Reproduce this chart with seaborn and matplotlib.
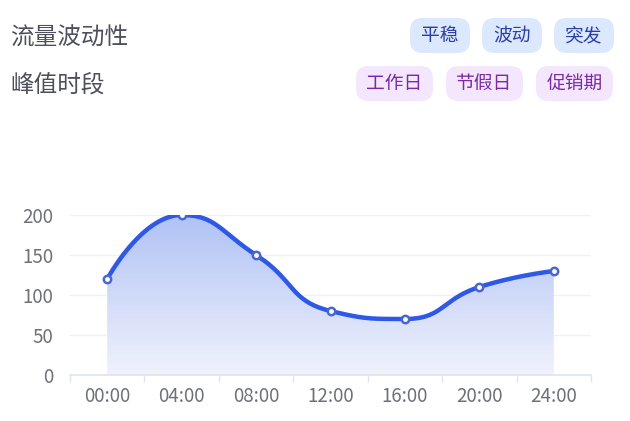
import numpy as np
import pandas as pd
import matplotlib
matplotlib.use("Agg")
import matplotlib.pyplot as plt
import seaborn as sns
from matplotlib.patches import FancyBboxPatch, Polygon

# chart data
hours = ["00:00", "04:00", "08:00", "12:00", "16:00", "20:00", "24:00"]
traffic = [120, 200, 150, 80, 70, 110, 130]
y_ticks = [0, 50, 100, 150, 200]

# header rows
row_titles = ["流量波动性", "峰值时段"]
volatility_tags = ["平稳", "波动", "突发"]
peak_tags = ["工作日", "节假日", "促销期"]

sns.set_theme(style="white")
plt.rcParams['font.family'] = ['Noto Sans CJK SC', 'DejaVu Sans']

W, H = 630, 421
fig = plt.figure(figsize=(W / 100, H / 100), dpi=100)

# axes placed in pixel units
ax_l, ax_r, ax_b, ax_t = 70, 591, 375, 215
ax = fig.add_axes([ax_l / W, 1 - ax_b / H, (ax_r - ax_l) / W, (ax_b - ax_t) / H])

n = len(hours)
xs = np.arange(n)
df = pd.DataFrame({"hour": hours, "x": xs, "traffic": traffic})

# smooth curve, echarts style: bezier control points clamped to neighbour boxes
sx = (ax_r - ax_l) / n
sy = (ax_b - ax_t) / 200.0
P = np.column_stack([xs * sx, np.array(traffic, float) * sy])
smooth = 0.5


def clamp(v, a, b):
    return np.minimum(np.maximum(v, np.minimum(a, b)), np.maximum(a, b))


segments = []
cp0 = P[0].copy()
for i in range(1, n):
    cur = P[i]
    prev = P[i - 1]
    if i == n - 1:
        cp1 = cur.copy()
        nxt_cp = cur.copy()
    else:
        nxt = P[i + 1]
        v = nxt - prev
        len_prev = np.linalg.norm(cur - prev)
        len_next = np.linalg.norm(nxt - cur)
        ratio = len_next / (len_next + len_prev)
        nxt_cp = cur + v * smooth * ratio
        nxt_cp = clamp(nxt_cp, nxt, cur)
        v = nxt_cp - cur
        cp1 = cur - v * len_prev / len_next
        cp1 = clamp(cp1, prev, cur)
        v = cur - cp1
        nxt_cp = cur + v * len_next / len_prev
    segments.append((prev, cp0, cp1, cur))
    cp0 = nxt_cp

t = np.linspace(0, 1, 40)[:, None]
curve = []
for k, (p0, p1, p2, p3) in enumerate(segments):
    seg = (1 - t) ** 3 * p0 + 3 * (1 - t) ** 2 * t * p1 + 3 * (1 - t) * t ** 2 * p2 + t ** 3 * p3
    curve.append(seg if k == 0 else seg[1:])
curve = np.vstack(curve)
cx = curve[:, 0] / sx
cy = curve[:, 1] / sy

ax.set_xlim(-0.5, n - 0.5)
ax.set_ylim(0, 200)

# gradient area
poly = np.vstack([[cx[0], 0], np.column_stack([cx, cy]), [cx[-1], 0]])
patch = Polygon(poly, closed=True, facecolor="none", edgecolor="none")
ax.add_patch(patch)
top_c = np.array([0.69, 0.76, 0.96])
bot_c = np.array([0.94, 0.95, 0.99])
g = np.linspace(0, 1, 256)[:, None]
grad = (bot_c[None, :] * (1 - g) + top_c[None, :] * g)[:, None, :]
im = ax.imshow(grad, extent=[-0.5, n - 0.5, 0, cy.max()], origin="lower",
               aspect="auto", zorder=1)
im.set_clip_path(patch)

curve_df = pd.DataFrame({"x": cx, "y": cy})
sns.lineplot(data=curve_df, x="x", y="y", ax=ax, color="#2e58e6", linewidth=3.2,
             sort=False, zorder=3, solid_capstyle="round")
sns.scatterplot(data=df, x="x", y="traffic", ax=ax, s=28, color="white",
                edgecolor="#4a66cf", linewidth=1.8, zorder=4)

ax.set_xlim(-0.5, n - 0.5)
ax.set_ylim(0, 200)
ax.set_xlabel("")
ax.set_ylabel("")
ax.set_xticks(xs)
ax.set_xticklabels(hours)
ax.set_xticks(np.arange(n + 1) - 0.5, minor=True)
ax.set_yticks(y_ticks)
ax.tick_params(axis="x", which="major", length=0, pad=8, labelsize=13.5, labelcolor="#6e7079")
ax.tick_params(axis="x", which="minor", length=5, width=1, color="#dfe3ec", direction="out", bottom=True)
ax.tick_params(axis="y", length=0, pad=12, labelsize=13.5, labelcolor="#6e7079")
ax.grid(axis="y", color="#eff1f5", linewidth=1)
ax.set_axisbelow(True)
for side in ["top", "right", "left"]:
    ax.spines[side].set_visible(False)
ax.spines["bottom"].set_color("#dfe3ec")
ax.spines["bottom"].set_linewidth(1.2)

# header text and tags
def px(x, y):
    return x / W, 1 - y / H

title_color = "#4b505a"
fig.text(*px(10, 38), row_titles[0], fontsize=17, color=title_color, va="center", ha="left")
fig.text(*px(10, 85), row_titles[1], fontsize=17, color=title_color, va="center", ha="left")

def draw_tags(labels, right, cy, widths, gap, bg, fg):
    x = right
    boxes = []
    for lab, w in zip(reversed(labels), reversed(widths)):
        boxes.append((x - w, lab, w))
        x -= w + gap
    for x0, lab, w in boxes:
        h = 35
        box = FancyBboxPatch((x0 / W, 1 - (cy + h / 2) / H), w / W, h / H,
                             boxstyle="round,pad=0,rounding_size=0.02",
                             transform=fig.transFigure, facecolor=bg, edgecolor="none",
                             mutation_aspect=W / H)
        fig.add_artist(box)
        fig.text((x0 + w / 2) / W, 1 - cy / H, lab, fontsize=13.5, color=fg,
                 ha="center", va="center")

draw_tags(volatility_tags, 614, 35.5, [60, 60, 60], 12, "#dbe8fe", "#2b3ea6")
draw_tags(peak_tags, 613, 83.5, [77, 77, 77], 13, "#f3e6fd", "#7a2aa6")

fig.savefig("out.png", dpi=100)
